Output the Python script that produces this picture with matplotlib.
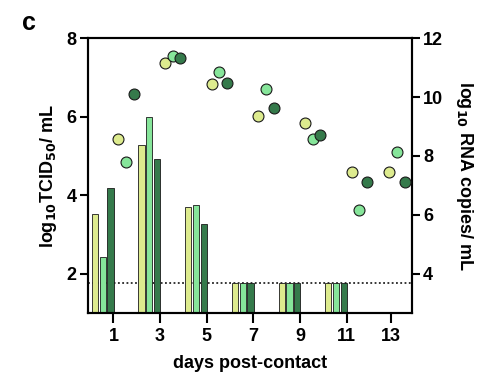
import numpy as np
import matplotlib
matplotlib.use("Agg")
import matplotlib.pyplot as plt

plt.rcParams['font.family'] = ['Liberation Sans', 'DejaVu Sans']
plt.rcParams['font.weight'] = 'bold'

# group colours: animal 1, 2, 3
cols = ['#DDEB8E', '#86E59A', '#357A4B']

# infectious virus titre (log10 TCID50/mL), bars
titer_base = [0, 2, 4, 6, 8, 10]
titer = [
    [3.53, 5.27, 3.70, 1.77, 1.77, 1.77],
    [2.44, 6.00, 3.75, 1.77, 1.77, 1.77],
    [4.18, 4.93, 3.26, 1.77, 1.77, 1.77],
]
lod = 1.77

# viral RNA (log10 copies/mL), circles
rna_base = [1, 3, 5, 7, 9, 11, 12.62]
rna = [
    [8.57, 11.15, 10.44, 9.37, 9.13, 7.47, 7.44],
    [7.79, 11.40, 10.85, 10.28, 8.57, 6.15, 8.12],
    [10.10, 11.32, 10.47, 9.64, 8.71, 7.13, 7.13],
]

tick_pos = [1, 3, 5, 7, 9, 11, 12.89]
tick_lab = ['1', '3', '5', '7', '9', '11', '13']

offs = [0.21, 0.54, 0.87]

fig = plt.figure(figsize=(4.9, 3.82), dpi=100)
ax = fig.add_axes([0.1786, 0.1806, 0.6624, 0.7191])
ax2 = ax.twinx()

for k in range(3):
    xb = np.array(titer_base) + offs[k]
    ax.bar(xb, np.array(titer[k]) - 1, bottom=1, width=0.27, color=cols[k],
           edgecolor='#1a1a1a', linewidth=0.6, zorder=2)
    xr = np.array(rna_base) + offs[k]
    ax2.scatter(xr, rna[k], s=62, color=cols[k], edgecolor='#1a1a1a',
                linewidth=0.8, zorder=3)

ax.axhline(lod, color='black', linestyle=(0, (1.2, 1.6)), linewidth=1.1, zorder=1)

ax.set_xlim(-0.11, 13.8)
ax.set_ylim(1, 8)
ax2.set_ylim(2.66, 12)
ax.set_yticks([2, 4, 6, 8])
ax2.set_yticks([4, 6, 8, 10, 12])
ax.set_xticks(tick_pos)
ax.set_xticklabels(tick_lab)

for a in (ax, ax2):
    for s in a.spines.values():
        s.set_linewidth(1.5)
    a.tick_params(width=1.5, length=6, labelsize=13, pad=2)
ax.tick_params(axis='x', length=7, pad=4)

ax.set_xlabel('days post-contact', fontsize=13, fontweight='bold', labelpad=7)
ax.set_ylabel('log$_{\\mathbf{10}}$TCID$_{\\mathbf{50}}$/ mL', fontsize=13,
              fontweight='bold', labelpad=5)
ax2.set_ylabel('log$_{\\mathbf{10}}$ RNA copies/ mL', fontsize=13,
               fontweight='bold', rotation=270, labelpad=23)

fig.text(0.045, 0.94, 'c', fontsize=18, fontweight='bold', va='center')

plt.savefig('out.png', dpi=100)
